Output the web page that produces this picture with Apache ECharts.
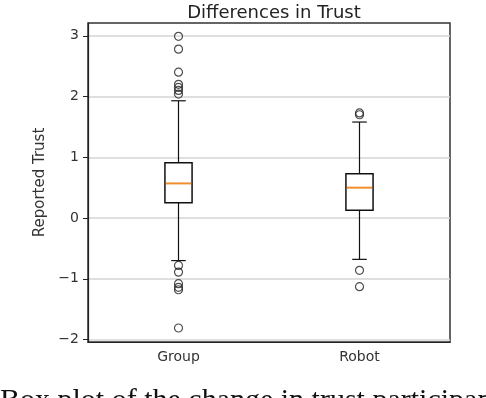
<!DOCTYPE html>
<html lang="en">
<head>
    <meta charset="UTF-8">
    <title>Differences in Trust</title>
    <script src="https://cdn.jsdelivr.net/npm/echarts@6/dist/echarts.min.js"></script>
    <style>
        html, body { margin: 0; padding: 0; background: #fff; }
        #chart { width: 486px; height: 398px; }
    </style>
</head>
<body>
<div id="chart"></div>

<script>
    // box stats: [lower whisker, q1, median, q3, upper whisker]
    var categories = ['Group', 'Robot'];
    var groupBox = [-0.70, 0.25, 0.57, 0.91, 1.93];
    var robotBox = [-0.68, 0.13, 0.50, 0.73, 1.58];
    var groupOutliers = [2.99, 2.78, 2.40, 2.20, 2.15, 2.10, 2.04, -0.78, -0.89, -1.08, -1.14, -1.18, -1.81];
    var robotOutliers = [1.70, 1.73, -0.86, -1.13];
    var yTicks = [-2, -1, 0, 1, 2, 3];

    var myChart = echarts.init(document.getElementById('chart'));

    var boxData = [
        [0].concat(groupBox),
        [1].concat(robotBox)
    ];
    var flierData = [];
    groupOutliers.forEach(function (v) { flierData.push([0, v]); });
    robotOutliers.forEach(function (v) { flierData.push([1, v]); });

    function renderBox(params, api) {
        var x = api.value(0);
        var lo = api.coord([x, api.value(1)]);
        var q1 = api.coord([x, api.value(2)]);
        var med = api.coord([x, api.value(3)]);
        var q3 = api.coord([x, api.value(4)]);
        var hi = api.coord([x, api.value(5)]);
        var bw = api.size([1, 0])[0] * 0.15;
        var cx = lo[0];
        var cap = bw / 2;
        var line = {stroke: '#111', lineWidth: 1.2};
        return {
            type: 'group',
            children: [
                {type: 'line', shape: {x1: cx, y1: q3[1], x2: cx, y2: hi[1]}, style: line},
                {type: 'line', shape: {x1: cx, y1: q1[1], x2: cx, y2: lo[1]}, style: line},
                {type: 'line', shape: {x1: cx - cap / 2 - 0.5, y1: hi[1], x2: cx + cap / 2 + 0.5, y2: hi[1]}, style: line},
                {type: 'line', shape: {x1: cx - cap / 2 - 0.5, y1: lo[1], x2: cx + cap / 2 + 0.5, y2: lo[1]}, style: line},
                {type: 'rect', shape: {x: cx - bw / 2, y: q3[1], width: bw, height: q1[1] - q3[1]},
                    style: {fill: '#fff', stroke: '#111', lineWidth: 1.5}},
                {type: 'line', shape: {x1: cx - bw / 2 + 1, y1: med[1], x2: cx + bw / 2 - 1, y2: med[1]},
                    style: {stroke: '#f28e2b', lineWidth: 2}}
            ]
        };
    }

    var option = {
        animation: false,
        backgroundColor: '#fff',
        textStyle: {fontFamily: 'DejaVu Sans'},
        title: {
            text: 'Differences in Trust',
            left: 269,
            textAlign: 'center',
            top: -1,
            textStyle: {fontFamily: 'DejaVu Sans', fontSize: 18, fontWeight: 'normal', color: '#222'}
        },
        grid: {
            left: 88, top: 23, right: 36, bottom: 56,
            show: true, borderColor: '#333', borderWidth: 1.5, backgroundColor: 'transparent'
        },
        xAxis: {
            type: 'category',
            data: categories,
            axisLine: {onZero: false, lineStyle: {color: '#222', width: 1.2}},
            axisTick: {alignWithLabel: true, length: 5, lineStyle: {color: '#222'}},
            axisLabel: {color: '#333', fontSize: 14, margin: 8},
            splitLine: {show: false}
        },
        yAxis: {
            type: 'value',
            min: -2.04,
            max: 3.21,
            name: 'Reported Trust',
            nameLocation: 'middle',
            nameRotate: 90,
            nameGap: 38,
            nameTextStyle: {color: '#333', fontSize: 15},
            axisLine: {show: true, lineStyle: {color: '#222', width: 1.2}},
            axisTick: {show: true, length: 5, customValues: yTicks, lineStyle: {color: '#222'}},
            axisLabel: {
                color: '#333', fontSize: 14, margin: 9,
                customValues: yTicks,
                formatter: function (v) { return String(v).replace('-', '\u2212'); }
            },
            splitLine: {show: true, lineStyle: {color: '#d4d4d4', width: 1.5}}
        },
        series: [
            {
                type: 'custom',
                renderItem: renderBox,
                encode: {x: 0, y: [1, 2, 3, 4, 5]},
                data: boxData,
                z: 3
            },
            {
                type: 'scatter',
                symbol: 'circle',
                symbolSize: 8,
                itemStyle: {color: 'rgba(255,255,255,0)', borderColor: '#222', borderWidth: 1.2},
                data: flierData,
                z: 4
            }
        ],
        graphic: [
            {
                type: 'text',
                left: 0,
                top: 386,
                style: {
                    text: 'Box plot of the change in trust participants',
                    font: '30px "Liberation Serif"',
                    fill: '#111'
                }
            }
        ]
    };
    myChart.setOption(option);
</script>

</body>
</html>
